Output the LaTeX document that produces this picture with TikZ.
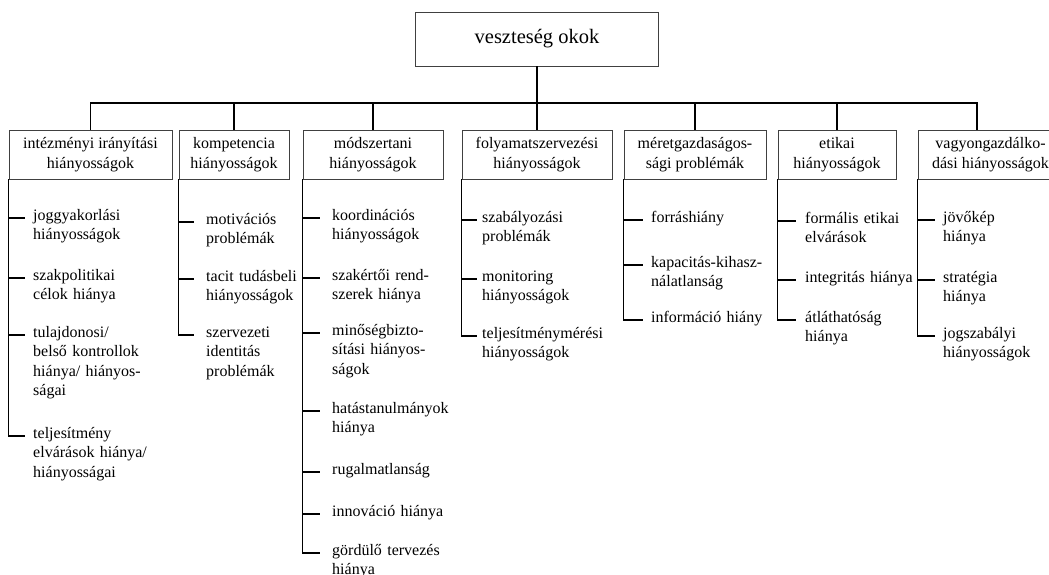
\documentclass[tikz,border=0pt]{standalone}
\usepackage{fontspec}
\setmainfont{Liberation Serif}
\usetikzlibrary{positioning}

\begin{document}
\begin{tikzpicture}[x=1pt, y=-1pt,
			root/.style = {rectangle, draw=black!75, line width=0.8pt, minimum width=243pt, minimum height=54pt, font=\fontsize{20.5}{24}\selectfont},
			group/.style = {rectangle, draw=black!75, line width=0.8pt, align=center, inner sep=0pt, minimum height=49pt, font=\fontsize{16}{19.5}\selectfont},
			item/.style = {anchor=mid west, align=left, text width=140pt, inner ysep=0pt, inner xsep=8pt, font=\fontsize{16}{19.5}\selectfont},
			link/.style = {line width=1.3pt, black},
		]
		\clip (0,0) rectangle (1049,574);

		\node[root](root) at (537,39){veszteség okok};

		\node[group, minimum width=163pt](c1) at (90.5,154.5){intézményi irányítási\\hiányosságok};
		\node[group, minimum width=110pt](c2) at (234,154.5){kompetencia\\hiányosságok};
		\node[group, minimum width=140pt](c3) at (373,154.5){módszertani\\hiányosságok};
		\node[group, minimum width=150pt](c4) at (537,154.5){folyamatszervezési\\hiányosságok};
		\node[group, minimum width=142pt](c5) at (695,154.5){méretgazdaságos-\\sági problémák};
		\node[group, minimum width=118pt](c6) at (837,154.5){etikai\\hiányosságok};
		\node[group, minimum width=145pt](c7) at (990.5,154.5){vagyongazdálko-\\dási hiányosságok};

		% intézményi irányítási
		\node[item](i11) at (25,218){joggyakorlási\\hiányosságok};
		\node[item](i12) at (25,278){szakpolitikai\\célok hiánya};
		\node[item](i13) at (25,335){tulajdonosi/\\belső kontrollok\\hiánya/ hiányos-\\ságai};
		\node[item](i14) at (25,436){teljesítmény\\elvárások hiánya/\\hiányosságai};

		% kompetencia
		\node[item, inner xsep=12pt](i21) at (194,222){motivációs\\problémák};
		\node[item, inner xsep=12pt](i22) at (194,279){tacit tudásbeli\\hiányosságok};
		\node[item, inner xsep=12pt](i23) at (194,335){szervezeti\\identitás\\problémák};

		% módszertani
		\node[item, inner xsep=12pt](i31) at (320,218){koordinációs\\hiányosságok};
		\node[item, inner xsep=12pt](i32) at (320,278){szakértői rend-\\szerek hiánya};
		\node[item, inner xsep=12pt](i33) at (320,333){minőségbizto-\\sítási hiányos-\\ságok};
		\node[item, inner xsep=12pt](i34) at (320,411){hatástanulmányok\\hiánya};
		\node[item, inner xsep=12pt](i35) at (320,472){rugalmatlanság};
		\node[item, inner xsep=12pt](i36) at (320,514){innováció hiánya};
		\node[item, inner xsep=12pt](i37) at (320,553){gördülő tervezés\\hiánya};

		% folyamatszervezési
		\node[item, inner xsep=5pt](i41) at (477,220){szabályozási\\problémák};
		\node[item, inner xsep=5pt](i42) at (477,279){monitoring\\hiányosságok};
		\node[item, inner xsep=5pt](i43) at (477,336){teljesítménymérési\\hiányosságok};

		% méretgazdaságossági
		\node[item](i51) at (643,220){forráshiány};
		\node[item](i52) at (643,265){kapacitás-kihasz-\\nálatlanság};
		\node[item](i53) at (643,320){információ hiány};

		% etikai
		\node[item, inner xsep=9pt](i61) at (796,221){formális etikai\\elvárások};
		\node[item, inner xsep=9pt](i62) at (796,280){integritás hiánya};
		\node[item, inner xsep=9pt](i63) at (796,320){átláthatóság\\hiánya};

		% vagyongazdálkodási
		\node[item](i71) at (935,220){jövőkép\\hiánya};
		\node[item](i72) at (935,280){stratégia\\hiánya};
		\node[item](i73) at (935,336){jogszabályi\\hiányosságok};

		% tree
		\coordinate(bus) at (537,103);
		\coordinate(d7) at ([xshift=-13.5pt]c7.north);
		\draw[link](root.south)--(root.south |- bus);
		\draw[link](c1.north) |- (d7 |- bus)--(d7);
		\draw[link](c2.north)--(c2.north |- bus) (c3.north)--(c3.north |- bus) (c4.north)--(c4.north |- bus) (c5.north)--(c5.north |- bus) (c6.north)--(c6.north |- bus);

		\draw[link](c1.south west) |- (i14.mid west) (c1.south west |- i11.mid west)--(i11.mid west) (c1.south west |- i12.mid west)--(i12.mid west) (c1.south west |- i13.mid west)--(i13.mid west);
		\draw[link](c2.south west) |- (i23.mid west) (c2.south west |- i21.mid west)--(i21.mid west) (c2.south west |- i22.mid west)--(i22.mid west);
		\draw[link](c3.south west) |- (i37.mid west) (c3.south west |- i31.mid west)--(i31.mid west) (c3.south west |- i32.mid west)--(i32.mid west) (c3.south west |- i33.mid west)--(i33.mid west) (c3.south west |- i34.mid west)--(i34.mid west) (c3.south west |- i35.mid west)--(i35.mid west) (c3.south west |- i36.mid west)--(i36.mid west);
		\draw[link](c4.south west) |- (i43.mid west) (c4.south west |- i41.mid west)--(i41.mid west) (c4.south west |- i42.mid west)--(i42.mid west);
		\draw[link](c5.south west) |- (i53.mid west) (c5.south west |- i51.mid west)--(i51.mid west) (c5.south west |- i52.mid west)--(i52.mid west);
		\draw[link](c6.south west) |- (i63.mid west) (c6.south west |- i61.mid west)--(i61.mid west) (c6.south west |- i62.mid west)--(i62.mid west);
		\draw[link](c7.south west) |- (i73.mid west) (c7.south west |- i71.mid west)--(i71.mid west) (c7.south west |- i72.mid west)--(i72.mid west);

	\end{tikzpicture}
\end{document}
